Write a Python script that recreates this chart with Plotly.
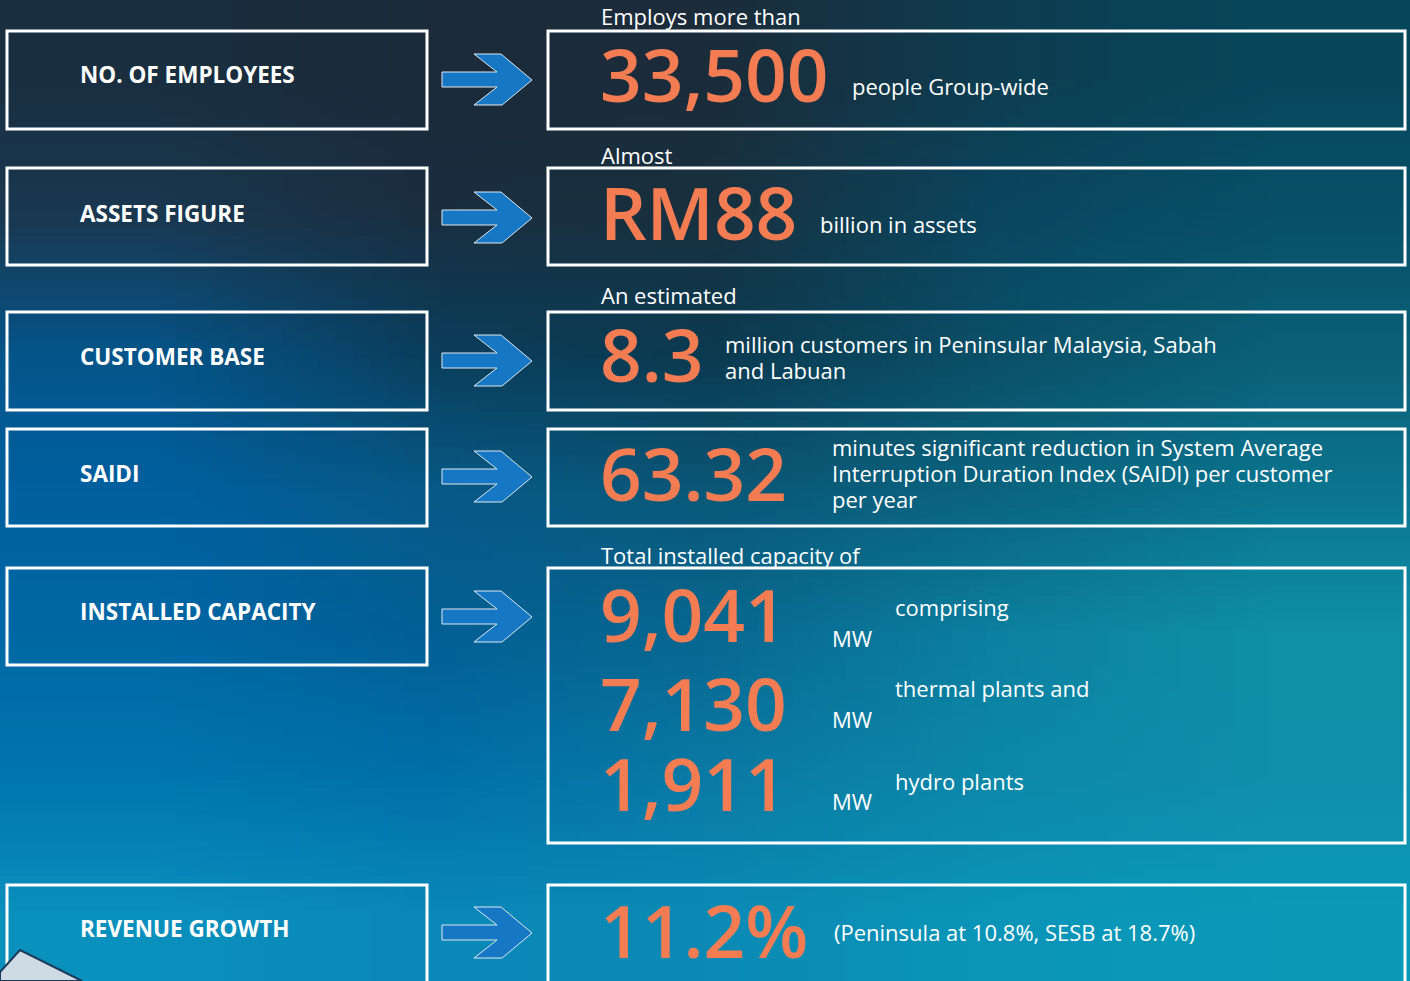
import base64
import struct
import zlib

import plotly.graph_objects as go

# ---------------- content ----------------
LABELS = ["NO. OF EMPLOYEES", "ASSETS FIGURE", "CUSTOMER BASE", "SAIDI",
          "INSTALLED CAPACITY", "REVENUE GROWTH"]
LEADS = ["Employs more than", "Almost", "An estimated", "",
         "Total installed capacity of", ""]
FIGURES = ["33,500", "RM88", "8.3", "63.32", "", "11.2%"]
DESCRIPTIONS = [
    ["people Group-wide"],
    ["billion in assets"],
    ["million customers in Peninsular Malaysia, Sabah", "and Labuan"],
    ["minutes significant reduction in System Average",
     "Interruption Duration Index (SAIDI) per customer",
     "per year"],
    [],
    ["(Peninsula at 10.8%, SESB at 18.7%)"],
]
CAPACITY_MW = ["9,041", "7,130", "1,911"]
CAPACITY_NOTES = ["comprising", "thermal plants and", "hydro plants"]
CAPACITY_UNIT = "MW"

# ---------------- layout geometry (pixels) ----------------
W, H = 1410, 981
LEFT_X = (7, 427)
RIGHT_X = (548, 1405)
LEFT_Y = [(31, 129), (168, 265), (312, 410), (429, 526), (568, 665), (885, 1000)]
RIGHT_Y = [(31, 129), (168, 265), (312, 410), (429, 526), (568, 843), (885, 1000)]
LABEL_X = 78
LABEL_Y = [74, 213, 356, 473, 611, 928]
ARROW_Y = [80, 218, 361, 477, 617, 933]
LEAD_X = 599
LEAD_Y = [16, 155, 295, None, 555, None]
FIG_X = 598
FIG_Y = [73.5, 211, 353, 472, None, 929]
DESC_X = [850, 818, 723, 830, None, 832]
DESC_Y = [86, 224, 344, 447, None, 932]
LINE_GAP = 26
CAP_FIG_Y = [613, 702, 782]
CAP_UNIT_X, CAP_UNIT_Y = 830, [638, 719, 801]
CAP_NOTE_X, CAP_NOTE_Y = 893, [607, 688, 781]

ORANGE = "#F47C52"
WHITE = "#FFFFFF"
ARROW_BLUE = "#1677C4"
FONT = "Open Sans, Noto Sans, sans-serif"

# background colour samples (7 rows x 5 columns)
BG_COLORS = [
    ["#192f40", "#1b2b3a", "#1b2c3b", "#0e3d50", "#07475c"],
    ["#1a3850", "#1a2e40", "#18313f", "#0a4660", "#075068"],
    ["#05558a", "#0a3e5c", "#0b3a50", "#0a5068", "#0b6078"],
    ["#0060a0", "#075a88", "#0a5878", "#0a6580", "#0b7590"],
    ["#0068a5", "#035f95", "#086890", "#0c80a0", "#1090a8"],
    ["#0075b0", "#0070a8", "#0a7aa5", "#0d88a8", "#108fab"],
    ["#0a90bd", "#0a88b8", "#0a8ab5", "#0a95b8", "#0a9ab8"],
]


def png_uri(rows):
    h, w = len(rows), len(rows[0])
    raw = b"".join(b"\x00" + bytes(b for c in row for b in bytes.fromhex(c[1:])) for row in rows)

    def chunk(t, d):
        return struct.pack(">I", len(d)) + t + d + struct.pack(">I", zlib.crc32(t + d) & 0xFFFFFFFF)

    png = (b"\x89PNG\r\n\x1a\n"
           + chunk(b"IHDR", struct.pack(">IIBBBBB", w, h, 8, 2, 0, 0, 0))
           + chunk(b"IDAT", zlib.compress(raw))
           + chunk(b"IEND", b""))
    return "data:image/png;base64," + base64.b64encode(png).decode()


def arrow_path(cy, x0=442):
    pts = [(x0, cy - 8), (x0 + 55, cy - 8), (x0 + 32, cy - 26), (x0 + 59, cy - 26),
           (x0 + 90, cy), (x0 + 60, cy + 25), (x0 + 32, cy + 25), (x0 + 55, cy + 7),
           (x0, cy + 7)]
    return "M " + " L ".join(f"{x},{y}" for x, y in pts) + " Z"


fig = go.Figure(go.Scatter(x=[None], y=[None], showlegend=False, hoverinfo="skip"))

shapes = []
annotations = []


def text(x, y, s, size, color=WHITE, weight=400):
    annotations.append(dict(
        x=x, y=y, xref="x", yref="y", text=s, showarrow=False,
        xanchor="left", yanchor="middle",
        font=dict(family=FONT, size=size, color=color, weight=weight),
    ))


for i, label in enumerate(LABELS):
    shapes.append(dict(type="rect", xref="x", yref="y", x0=LEFT_X[0], x1=LEFT_X[1],
                       y0=LEFT_Y[i][0], y1=LEFT_Y[i][1],
                       line=dict(color=WHITE, width=3), fillcolor="rgba(0,0,0,0)"))
    shapes.append(dict(type="rect", xref="x", yref="y", x0=RIGHT_X[0], x1=RIGHT_X[1],
                       y0=RIGHT_Y[i][0], y1=RIGHT_Y[i][1],
                       line=dict(color=WHITE, width=3), fillcolor="rgba(0,0,0,0)"))
    shapes.append(dict(type="path", xref="x", yref="y", path=arrow_path(ARROW_Y[i]),
                       fillcolor=ARROW_BLUE, line=dict(color="#dfe8f0", width=1)))
    text(LABEL_X, LABEL_Y[i], label, 22.5, weight=700)
    if LEADS[i]:
        text(LEAD_X, LEAD_Y[i], LEADS[i], 22)
    if FIGURES[i]:
        text(FIG_X, FIG_Y[i], FIGURES[i], 73, color=ORANGE, weight=600)
    for k, line in enumerate(DESCRIPTIONS[i]):
        text(DESC_X[i], DESC_Y[i] + k * LINE_GAP, line, 22)

for j, val in enumerate(CAPACITY_MW):
    text(FIG_X, CAP_FIG_Y[j], val, 73, color=ORANGE, weight=600)
    text(CAP_UNIT_X, CAP_UNIT_Y[j], CAPACITY_UNIT, 22)
    text(CAP_NOTE_X, CAP_NOTE_Y[j], CAPACITY_NOTES[j], 22)

# fragment of photo in bottom-left corner
shapes.append(dict(type="path", xref="x", yref="y",
                   path="M 0,972 L 20,950 L 82,981 L 0,981 Z",
                   fillcolor="#cfdbe4", line=dict(color="#1a3a5a", width=2)))

fig.update_layout(
    width=W, height=H,
    margin=dict(l=0, r=0, t=0, b=0),
    paper_bgcolor="#0a5a80",
    plot_bgcolor="rgba(0,0,0,0)",
    xaxis=dict(range=[0, W], visible=False, fixedrange=True),
    yaxis=dict(range=[H, 0], visible=False, fixedrange=True),
    shapes=shapes,
    annotations=annotations,
    images=[dict(source=png_uri(BG_COLORS), xref="paper", yref="paper",
                 x=0, y=1, sizex=1, sizey=1, xanchor="left", yanchor="top",
                 sizing="stretch", layer="below")],
    showlegend=False,
)

fig.write_html(
    "out.html",
    config={"displayModeBar": False},
    post_script="document.body.style.margin='0';document.body.style.overflow='hidden';",
)
